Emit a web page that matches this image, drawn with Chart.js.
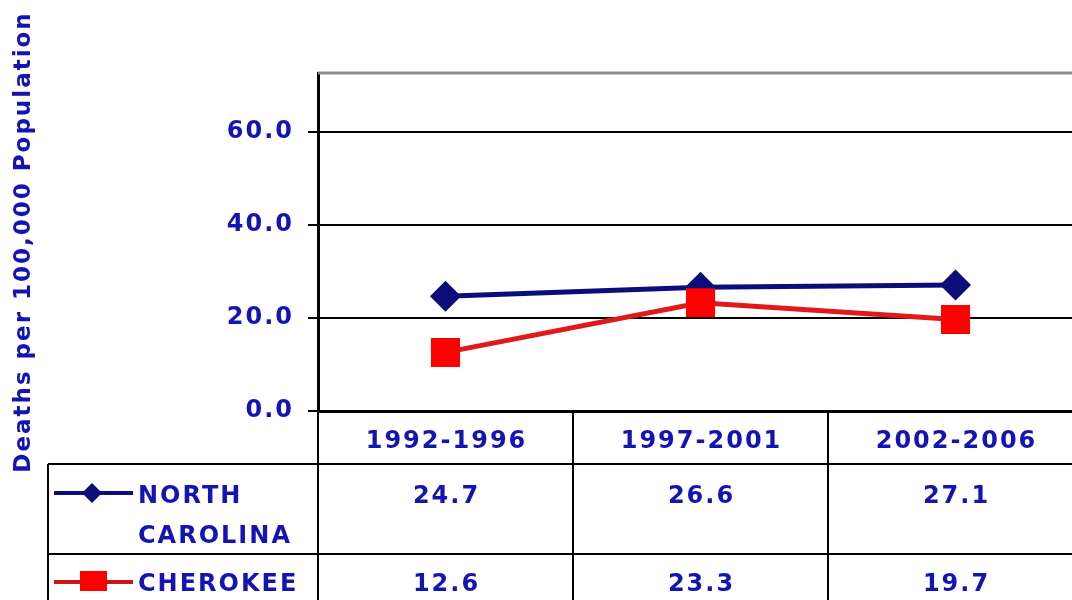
<!DOCTYPE html>
<html>
<head>
<meta charset="utf-8">
<script src="https://cdn.jsdelivr.net/npm/chart.js@4/dist/chart.umd.min.js"></script>
<style>
  html, body { margin: 0; padding: 0; background: #fff; overflow: hidden; }
  #wrap { width: 1090px; height: 600px; position: relative; }
</style>
</head>
<body>
<div id="wrap"><canvas id="myChart" width="1090" height="600"></canvas></div>
<script>
// data
const categories = ['1992-1996', '1997-2001', '2002-2006'];
const northCarolina = [24.7, 26.6, 27.1];
const cherokee = [12.6, 23.3, 19.7];
const yTicks = [0, 20, 40, 60];
const seriesLabels = [['NORTH', 'CAROLINA'], ['CHEROKEE']];

const textBlue = '#1414b4';
const navy = '#0c0c7a';
const red = '#ff0000';
const font = 'bold 24px "DejaVu Sans"';

// draws the data table under the plot, using the x scale for the columns
const tablePlugin = {
  id: 'dataTable',
  beforeDraw(chart) {
    chart.ctx.letterSpacing = '2px';
  },
  afterDraw(chart) {
    const ctx = chart.ctx;
    const x = chart.scales.x;
    const area = chart.chartArea;
    const half = (x.getPixelForValue(1) - x.getPixelForValue(0)) / 2;
    const top = area.bottom;
    const rowLines = [top + 53, top + 143];
    const bottom = chart.height + 10;
    const tableLeft = 48;

    ctx.save();
    // gray top border of plot
    ctx.strokeStyle = '#8c8c8c';
    ctx.lineWidth = 3;
    ctx.beginPath();
    ctx.moveTo(area.left, area.top);
    ctx.lineTo(area.right, area.top);
    ctx.stroke();

    ctx.strokeStyle = '#000';
    ctx.lineWidth = 2;
    ctx.beginPath();
    // column lines
    ctx.moveTo(area.left, top);
    ctx.lineTo(area.left, bottom);
    categories.forEach((c, i) => {
      const bx = x.getPixelForValue(i) + half;
      ctx.moveTo(bx, top);
      ctx.lineTo(bx, bottom);
    });
    // row lines
    rowLines.forEach(ry => {
      ctx.moveTo(tableLeft, ry);
      ctx.lineTo(area.right + 10, ry);
    });
    ctx.moveTo(tableLeft, rowLines[0]);
    ctx.lineTo(tableLeft, bottom);
    ctx.stroke();

    ctx.font = font;
    ctx.letterSpacing = '2px';
    ctx.fillStyle = textBlue;
    ctx.textAlign = 'center';
    ctx.textBaseline = 'alphabetic';
    categories.forEach((c, i) => {
      ctx.fillText(c, x.getPixelForValue(i) + 1, top + 37);
    });

    const rows = [northCarolina, cherokee];
    const baselines = [top + 92, top + 180];
    rows.forEach((vals, r) => {
      ctx.textAlign = 'center';
      vals.forEach((v, i) => {
        ctx.fillText(v.toFixed(1), x.getPixelForValue(i) + 1, baselines[r]);
      });
      ctx.textAlign = 'left';
      seriesLabels[r].forEach((s, k) => {
        ctx.fillText(s, 138, baselines[r] + k * 40);
      });
    });

    // legend keys
    const keyY = [top + 82, top + 171];
    const keyColors = [navy, '#cc1515'];
    keyY.forEach((ky, r) => {
      ctx.strokeStyle = keyColors[r];
      ctx.lineWidth = 4;
      ctx.beginPath();
      ctx.moveTo(54, ky);
      ctx.lineTo(133, ky);
      ctx.stroke();
    });
    ctx.fillStyle = navy;
    ctx.beginPath();
    ctx.moveTo(92, keyY[0] - 10);
    ctx.lineTo(102, keyY[0]);
    ctx.lineTo(92, keyY[0] + 10);
    ctx.lineTo(82, keyY[0]);
    ctx.closePath();
    ctx.fill();
    ctx.fillStyle = red;
    ctx.fillRect(80, keyY[1] - 11, 27, 20);
    ctx.restore();
  }
};

new Chart(document.getElementById('myChart'), {
  type: 'line',
  data: {
    labels: categories,
    datasets: [{
      label: 'NORTH CAROLINA',
      data: northCarolina,
      borderColor: navy,
      backgroundColor: navy,
      borderWidth: 5,
      pointStyle: 'rectRot',
      pointRadius: 12,
      tension: 0,
      order: 1
    }, {
      label: 'CHEROKEE',
      data: cherokee,
      borderColor: '#e01a1a',
      backgroundColor: red,
      pointBorderColor: red,
      borderWidth: 5,
      pointStyle: 'rect',
      pointRadius: 17,
      tension: 0,
      order: 0
    }]
  },
  options: {
    responsive: false,
    animation: false,
    layout: { autoPadding: false, padding: { top: 73, right: 7, left: 0, bottom: 0 } },
    plugins: {
      legend: { display: false },
      tooltip: { enabled: false }
    },
    scales: {
      x: {
        offset: true,
        grid: { display: false },
        ticks: { display: false },
        border: { display: true, color: '#000', width: 3 },
        afterFit(scale) { scale.height = 189; }
      },
      y: {
        min: 0,
        max: 72.7,
        afterBuildTicks(scale) {
          scale.ticks = yTicks.map(v => ({ value: v }));
        },
        afterFit(scale) { scale.width = 318; },
        grid: { color: '#000', lineWidth: 2, tickLength: 10, drawTicks: true },
        border: { display: true, color: '#000', width: 3 },
        ticks: {
          color: textBlue,
          padding: 14,
          font: { family: 'DejaVu Sans', size: 24, weight: 'bold' },
          callback: v => v.toFixed(1)
        },
        title: {
          display: true,
          text: 'Deaths per 100,000 Population',
          color: textBlue,
          font: { family: 'DejaVu Sans', size: 23, weight: 'bold' },
          padding: { top: 10, bottom: 0 }
        }
      }
    }
  },
  plugins: [tablePlugin]
});
</script>
</body>
</html>
